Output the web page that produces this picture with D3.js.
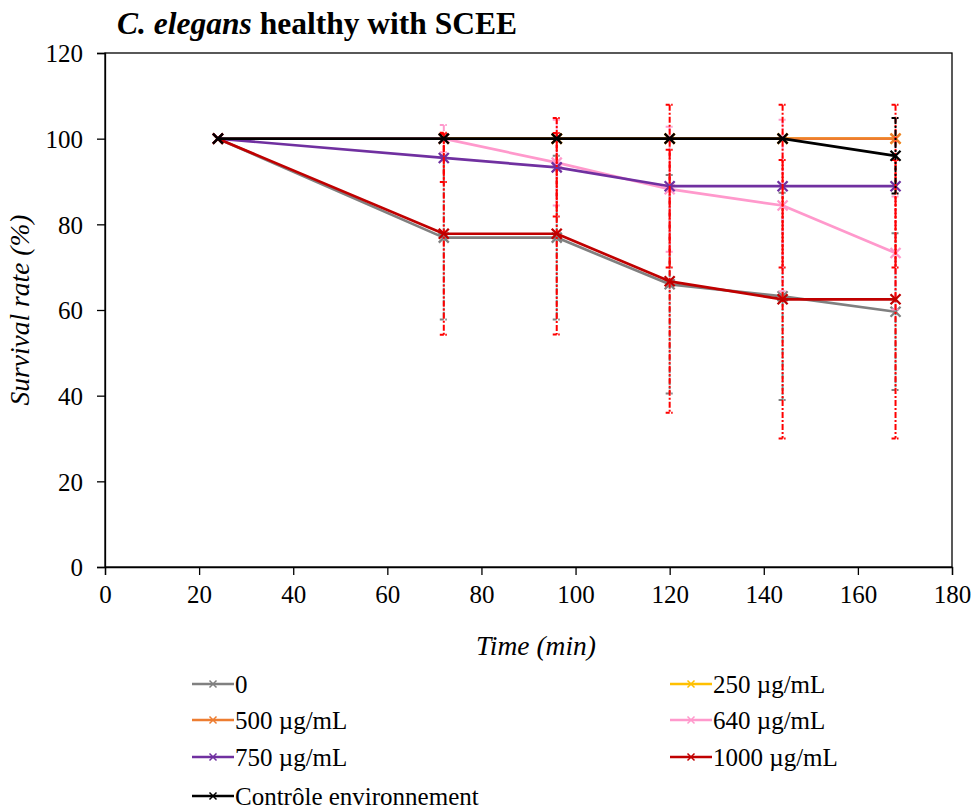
<!DOCTYPE html>
<html><head><meta charset="utf-8">
<script src="https://cdn.jsdelivr.net/npm/d3@7"></script>
<style>
body{margin:0;background:#fff;}
svg text{font-family:"Liberation Serif","Times New Roman",serif;fill:#000;}
</style></head>
<body><svg id="c" width="974" height="812"></svg>
<script>
// ---- data ----
const times = [24, 72, 96, 120, 144, 168];
const seriesNames = ["0", "250 µg/mL", "500 µg/mL", "640 µg/mL", "750 µg/mL", "1000 µg/mL", "Contrôle environnement"];
const seriesColors = ["#808080", "#FFC000", "#ED7D31", "#FF99CC", "#7030A0", "#C00000", "#000000"];
const errColors = ["#808080", "#FFC000", "#ED7D31", "#FF99CC", "#FF0000", "#FF0000", "#000000"];
const v0    = [100, 76.9, 76.9, 66.0, 63.2, 59.6];
const v250  = [100, 100, 100, 100, 100, 100];
const v500  = [100, 100, 100, 100, 100, 100];
const v640  = [100, 100, 94.4, 88.2, 84.4, 73.3];
const v750  = [100, 95.5, 93.3, 88.9, 88.9, 88.9];
const v1000 = [100, 77.8, 77.8, 66.7, 62.5, 62.5];
const vCtrl = [100, 100, 100, 100, 100, 96.0];
const e0    = [0, 19.1, 19.1, 25.5, 24.2, 18.3];
const e250  = [0, 0, 0, 0, 0, 0];
const e500  = [0, 0, 0, 0, 0, 0];
const e640  = [0, 3.2, 10.0, 14.6, 20.0, 13.2];
const e750  = [0, 5.6, 11.5, 19.0, 19.0, 19.0];
const e1000 = [0, 23.6, 23.5, 30.7, 32.5, 32.5];
const eCtrl = [0, 0, 0, 0, 0, 8.8];
const xTicks = [0, 20, 40, 60, 80, 100, 120, 140, 160, 180];
const yTicks = [0, 20, 40, 60, 80, 100, 120];
const titleItalic = "C. elegans";
const titleRest = " healthy with SCEE";
const xTitle = "Time (min)";
const yTitle = "Survival rate (%)";

const values = [v0, v250, v500, v640, v750, v1000, vCtrl];
const errors = [e0, e250, e500, e640, e750, e1000, eCtrl];
const series = seriesNames.map((n, i) => ({
  name: n, color: seriesColors[i], ecolor: errColors[i],
  pts: times.map((t, j) => ({x: t, y: values[i][j], e: errors[i][j]}))
}));

// ---- layout ----
const svg = d3.select("#c");
const L = 105, R = 952, T = 53, B = 567;
const x = d3.scaleLinear().domain([0, 180]).range([L, R]);
const y = d3.scaleLinear().domain([0, 120]).range([B, T]);

svg.append("rect").attr("x", L).attr("y", T).attr("width", R - L).attr("height", B - T)
  .attr("fill", "none").attr("stroke", "#000").attr("stroke-width", 1.3);

const xAxis = svg.append("g").attr("transform", `translate(0,${B})`)
  .call(d3.axisBottom(x).tickValues(xTicks).tickSize(8).tickPadding(10));
const yAxis = svg.append("g").attr("transform", `translate(${L},0)`)
  .call(d3.axisLeft(y).tickValues(yTicks).tickSize(8).tickPadding(14));
[xAxis, yAxis].forEach(a => {
  a.select(".domain").attr("stroke", "#000").attr("stroke-width", 1.3);
  a.selectAll(".tick line").attr("stroke", "#000").attr("stroke-width", 1.3);
  a.selectAll(".tick text").style("font-family", "'Liberation Serif', serif").style("font-size", "25px").attr("fill", "#000");
});
yAxis.selectAll(".tick text").attr("dy", "0.35em");

const tt = svg.append("text").attr("x", 117).attr("y", 34).style("font-size", "31.5px").style("font-weight", "bold");
tt.append("tspan").style("font-style", "italic").text(titleItalic);
tt.append("tspan").text(titleRest);

svg.append("text").attr("x", 536).attr("y", 655).attr("text-anchor", "middle")
  .style("font-size", "27.5px").style("font-style", "italic").text(xTitle);
svg.append("text").attr("transform", `translate(29,${(T + B) / 2}) rotate(-90)`).attr("text-anchor", "middle")
  .style("font-size", "27.5px").style("font-style", "italic").text(yTitle);

const line = d3.line().x(d => x(d.x)).y(d => y(d.y));
function xMark(g, cx, cy, s, col, w) {
  g.append("path").attr("d", `M${cx - s},${cy - s}L${cx + s},${cy + s}M${cx - s},${cy + s}L${cx + s},${cy - s}`)
    .attr("stroke", col).attr("stroke-width", w).attr("fill", "none");
}
series.forEach(s => {
  const g = svg.append("g");
  s.pts.filter(p => p.e > 0).forEach(p => {
    const cx = x(p.x), y1 = y(p.y + p.e), y2 = y(p.y - p.e);
    g.append("line").attr("x1", cx).attr("x2", cx).attr("y1", y1).attr("y2", y2)
      .attr("stroke", s.ecolor).attr("stroke-width", 2).attr("stroke-dasharray", "6,2,2,2");
    [y1, y2].forEach(yy => g.append("line").attr("x1", cx - 4).attr("x2", cx + 4).attr("y1", yy).attr("y2", yy)
      .attr("stroke", s.ecolor).attr("stroke-width", 2).attr("stroke-dasharray", "4,1.5,1.5,1.5"));
  });
  g.append("path").datum(s.pts).attr("d", line).attr("fill", "none")
    .attr("stroke", s.color).attr("stroke-width", 2.7).attr("stroke-linejoin", "round");
  s.pts.forEach(p => xMark(g, x(p.x), y(p.y), 5, s.color, 2.3));
});

const legPos = [[192, 684], [670, 684], [192, 720], [670, 720], [192, 757], [670, 757], [192, 796]];
series.forEach((s, i) => {
  const [lx, ly] = legPos[i];
  const g = svg.append("g");
  g.append("line").attr("x1", lx).attr("x2", lx + 42).attr("y1", ly).attr("y2", ly)
    .attr("stroke", s.color).attr("stroke-width", 2.6);
  xMark(g, lx + 21, ly, 3.5, s.color, 1.5);
  g.append("text").attr("x", lx + 43).attr("y", ly).attr("dy", "0.35em").style("font-size", "25px").text(s.name);
});
</script></body></html>
